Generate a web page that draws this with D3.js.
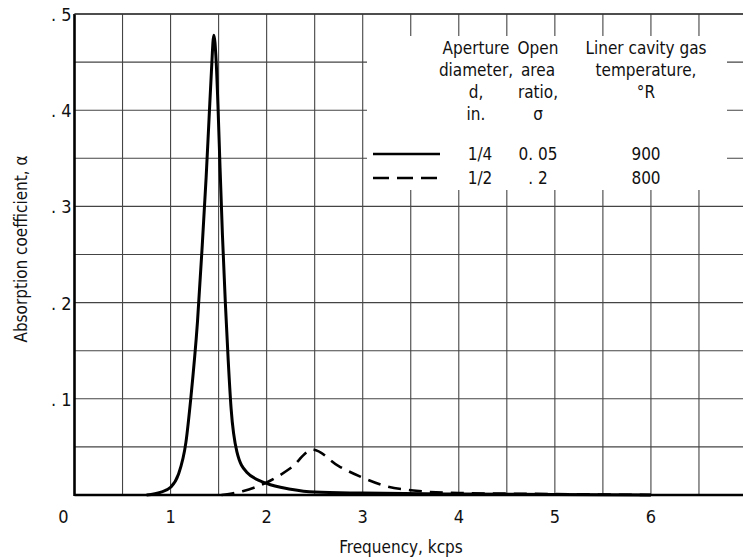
<!DOCTYPE html>
<html><head><meta charset="utf-8">
<script src="https://cdn.jsdelivr.net/npm/d3@7"></script>
<style>body{margin:0;background:#fff}svg{display:block}text{font-family:"DejaVu Sans Condensed","DejaVu Sans",sans-serif;fill:#111}</style>
</head><body><svg id="c" width="743" height="557"></svg>
<script>
// Data
const solidX = [0.75, 0.9, 1.0, 1.08, 1.16, 1.21, 1.28, 1.33, 1.37, 1.40, 1.425, 1.45, 1.475, 1.495, 1.515, 1.54, 1.57, 1.60, 1.63, 1.69, 1.79, 2.0, 2.25, 2.5, 3.0, 4.0, 5.0, 6.0];
const solidY = [0, 0.003, 0.008, 0.021, 0.055, 0.10, 0.18, 0.26, 0.33, 0.39, 0.44, 0.478, 0.45, 0.40, 0.34, 0.27, 0.20, 0.14, 0.09, 0.045, 0.024, 0.012, 0.006, 0.003, 0.002, 0.001, 0.0005, 0];
const dashX = [1.53, 1.75, 2.0, 2.25, 2.48, 2.75, 3.0, 3.25, 3.5, 4.0, 5.0, 6.0];
const dashY = [0, 0.004, 0.013, 0.028, 0.047, 0.030, 0.018, 0.009, 0.005, 0.002, 0.001, 0];
const xTicks = [0, 1, 2, 3, 4, 5, 6];
const yTicks = [0.1, 0.2, 0.3, 0.4, 0.5];
const yTickLabels = [". 1", ". 2", ". 3", ". 4", ". 5"];
const legendHeader = [
  ["Aperture", "diameter,", "d,", "in."],
  ["Open", "area", "ratio,", "σ"],
  ["Liner cavity gas", "temperature,", "°R", ""]
];
const legendRows = [["1/4", "0. 05", "900"], ["1/2", ". 2", "800"]];

const svg = d3.select("#c");
const x = d3.scaleLinear().domain([0, 7]).range([74.5, 747]);
const y = d3.scaleLinear().domain([0, 0.5]).range([495, 14]);

// grid
const g = svg.append("g");
const vx = d3.range(1, 15).map(i => i * 0.5);
g.selectAll(".vg").data(vx).join("line")
  .attr("x1", d => x(d)).attr("x2", d => x(d)).attr("y1", y(0)).attr("y2", y(0.5))
  .attr("stroke", "#444").attr("stroke-width", 1.1);
const hy = d3.range(1, 11).map(i => i * 0.05);
g.selectAll(".hg").data(hy).join("line")
  .attr("x1", x(0)).attr("x2", 743).attr("y1", d => y(d)).attr("y2", d => y(d))
  .attr("stroke", "#444").attr("stroke-width", 1.1);

// legend backdrop
svg.append("rect").attr("x", 367).attr("y", 36).attr("width", 360).attr("height", 154).attr("fill", "#fff");

// axes
svg.append("line").attr("x1", x(0)).attr("x2", x(0)).attr("y1", y(0) + 1).attr("y2", y(0.5))
  .attr("stroke", "#000").attr("stroke-width", 2.6);
svg.append("line").attr("x1", x(0)).attr("x2", 743).attr("y1", y(0)).attr("y2", y(0))
  .attr("stroke", "#000").attr("stroke-width", 2.6);
svg.append("line").attr("x1", x(0)).attr("x2", 743).attr("y1", y(0.5)).attr("y2", y(0.5))
  .attr("stroke", "#333").attr("stroke-width", 1.6);

// tick labels
svg.selectAll(".xt").data(xTicks).join("text")
  .attr("x", d => d === 0 ? x(d) - 11 : x(d)).attr("y", 523)
  .attr("text-anchor", "middle").attr("font-size", 18).text(d => d);
svg.selectAll(".yt").data(yTicks).join("text")
  .attr("x", x(0) - 3).attr("y", d => y(d) + 7)
  .attr("text-anchor", "end").attr("font-size", 18).text((d, i) => yTickLabels[i]);

// axis titles
svg.append("text").attr("x", 401).attr("y", 553).attr("text-anchor", "middle")
  .attr("font-size", 17).text("Frequency,  kcps");
svg.append("text").attr("transform", "translate(27,249) rotate(-90)").attr("text-anchor", "middle")
  .attr("font-size", 17).text("Absorption coefficient, α");

// curves
const line = d3.line().x(d => x(d[0])).y(d => y(d[1])).curve(d3.curveMonotoneX);
svg.append("path").datum(d3.zip(solidX, solidY)).attr("d", line)
  .attr("fill", "none").attr("stroke", "#000").attr("stroke-width", 3);
svg.append("path").datum(d3.zip(dashX, dashY)).attr("d", line)
  .attr("fill", "none").attr("stroke", "#000").attr("stroke-width", 2.6).attr("stroke-dasharray", "13,8");

// legend
const colX = [476, 538, 646];
const headY = [54, 76, 98, 120];
legendHeader.forEach((col, ci) => {
  col.forEach((t, ri) => {
    svg.append("text").attr("x", colX[ci]).attr("y", headY[ri]).attr("text-anchor", "middle")
      .attr("font-size", 17).text(t);
  });
});
const rowY = [160, 184];
legendRows.forEach((r, ri) => {
  r.forEach((t, ci) => {
    svg.append("text").attr("x", colX[ci] + (ci === 0 ? 4 : 0)).attr("y", rowY[ri]).attr("text-anchor", "middle")
      .attr("font-size", 17).text(t);
  });
  svg.append("line").attr("x1", 373).attr("x2", 440).attr("y1", rowY[ri] - 6).attr("y2", rowY[ri] - 6)
    .attr("stroke", "#000").attr("stroke-width", 2.4).attr("stroke-dasharray", ri === 1 ? "16,8" : null);
});
</script></body></html>
